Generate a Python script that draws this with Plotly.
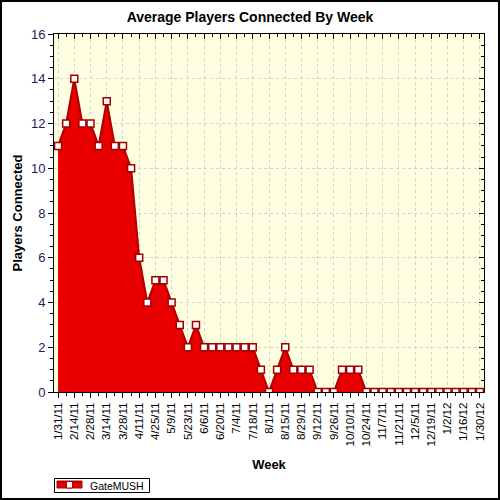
import plotly.graph_objects as go

# Weekly averages
weeks = ['1/31/11', '2/7/11', '2/14/11', '2/21/11', '2/28/11', '3/7/11', '3/14/11',
         '3/21/11', '3/28/11', '4/4/11', '4/11/11', '4/18/11', '4/25/11', '5/2/11',
         '5/9/11', '5/16/11', '5/23/11', '5/30/11', '6/6/11', '6/13/11', '6/20/11',
         '6/27/11', '7/4/11', '7/11/11', '7/18/11', '7/25/11', '8/1/11', '8/8/11',
         '8/15/11', '8/22/11', '8/29/11', '9/5/11', '9/12/11', '9/19/11', '9/26/11',
         '10/3/11', '10/10/11', '10/17/11', '10/24/11', '10/31/11', '11/7/11',
         '11/14/11', '11/21/11', '11/28/11', '12/5/11', '12/12/11', '12/19/11',
         '12/26/11', '1/2/12', '1/9/12', '1/16/12', '1/23/12', '1/30/12']
players = [11, 12, 14, 12, 12, 11, 13, 11, 11, 10, 6, 4, 5, 5, 4, 3, 2, 3,
           2, 2, 2, 2, 2, 2, 2, 1, 0, 1, 2, 1, 1, 1, 0, 0, 0, 1, 1, 1,
           0, 0, 0, 0, 0, 0, 0, 0, 0, 0, 0, 0, 0, 0, 0]
series_name = 'GateMUSH'

idx = list(range(len(weeks)))
tick_idx = idx[::2]
tick_txt = weeks[::2]

FONT = 'Liberation Sans, Arial, sans-serif'
FILL = '#E80000'
EDGE = '#B00000'

fig = go.Figure()
fig.add_trace(go.Scatter(
    x=idx, y=players, name=series_name, mode='lines+markers',
    fill='tozeroy', fillcolor=FILL, showlegend=False,
    line=dict(color=EDGE, width=2),
    marker=dict(symbol='square', size=7, color='white',
                line=dict(color='#A00000', width=1.5)),
))
# dummy trace so the top/right frame axes get drawn
fig.add_trace(go.Scatter(x=[None], y=[None], xaxis='x2', yaxis='y2',
                         showlegend=False, hoverinfo='skip'))

W, H = 500, 500
L, R, T, B = 54, 16, 34, 108
pw, ph = W - L - R, H - T - B


def px(x):
    return (x - L) / pw


def py(y):
    return (T + ph - y) / ph


fig.update_layout(
    template='none',
    width=W, height=H,
    margin=dict(l=L, r=R, t=T, b=B, autoexpand=False),
    paper_bgcolor='white', plot_bgcolor='#FEFEE0',
    font=dict(family=FONT, size=12, color='black'),
    title=dict(text='<b>Average Players Connected By Week</b>', x=0.5, xanchor='center',
               y=1 - 17 / H, yanchor='middle', font=dict(size=14, color='black')),
    showlegend=False,
    xaxis=dict(
        range=[-0.5, len(weeks) - 0.5], tickmode='array', tickvals=tick_idx,
        ticktext=tick_txt, tickangle=-90, ticks='outside', ticklen=5,
        tickcolor='black', showline=True, linecolor='black', linewidth=1,
        showgrid=True, gridcolor='#D2D2D2', griddash='dot', gridwidth=1,
        zeroline=False, automargin=False, tickfont=dict(size=11.5, color='black'),
        minor=dict(dtick=1, tick0=0, ticks='outside', ticklen=3, tickcolor='black',
                   showgrid=False),
        title=dict(text='<b>Week</b>', font=dict(size=13), standoff=14),
    ),
    yaxis=dict(
        range=[0, 16], dtick=2, ticks='outside', ticklen=5, tickcolor='black',
        showline=True, linecolor='black', linewidth=1,
        showgrid=True, gridcolor='#D2D2D2', griddash='dot', gridwidth=1,
        zeroline=False, automargin=False, tickfont=dict(size=13, color='#1C1C5C'),
        minor=dict(dtick=0.5, ticks='outside', ticklen=3, tickcolor='black',
                   showgrid=False),
        title=dict(text='<b>Players Connected</b>', font=dict(size=13), standoff=5),
    ),
    xaxis2=dict(overlaying='x', side='top', range=[-0.5, len(weeks) - 0.5],
                tickmode='array', tickvals=tick_idx, showticklabels=False,
                ticks='inside', ticklen=5, tickcolor='black', showline=True,
                linecolor='black', showgrid=False, zeroline=False,
                minor=dict(dtick=1, tick0=0, ticks='inside', ticklen=3,
                           tickcolor='black')),
    yaxis2=dict(overlaying='y', side='right', range=[0, 16], dtick=2,
                showticklabels=False, ticks='inside', ticklen=5, tickcolor='black',
                showline=True, linecolor='black', showgrid=False, zeroline=False,
                minor=dict(dtick=0.5, ticks='inside', ticklen=3, tickcolor='black')),
)

# outer frame around the whole picture
fig.add_shape(type='rect', xref='paper', yref='paper', layer='above',
              x0=px(1), x1=px(W - 1), y0=py(H - 1), y1=py(1),
              line=dict(color='black', width=2))

# legend box, drawn by hand so it stays as small as the original one
fig.add_shape(type='rect', xref='paper', yref='paper',
              x0=px(54.5), x1=px(149.5), y0=py(492.5), y1=py(478.5),
              line=dict(color='black', width=1), fillcolor='white')
fig.add_shape(type='rect', xref='paper', yref='paper',
              x0=px(57), x1=px(82), y0=py(488), y1=py(481),
              line=dict(color=EDGE, width=1), fillcolor=FILL)
fig.add_shape(type='line', xref='paper', yref='paper',
              x0=px(57), x1=px(82), y0=py(482), y1=py(482),
              line=dict(color=EDGE, width=2))
fig.add_shape(type='rect', xref='paper', yref='paper',
              x0=px(66.5), x1=px(72.5), y0=py(488), y1=py(481.5),
              line=dict(color='#A00000', width=1), fillcolor='white')
fig.add_annotation(xref='paper', yref='paper', x=px(88), y=py(485.5),
                   xanchor='left', yanchor='middle', showarrow=False,
                   text=series_name, font=dict(size=10.5, color='black'))

# page body has a default margin, drop it so the figure sits at 0,0
fig.write_html('out.html', config={'displayModeBar': False},
               post_script="document.body.style.margin='0';")
